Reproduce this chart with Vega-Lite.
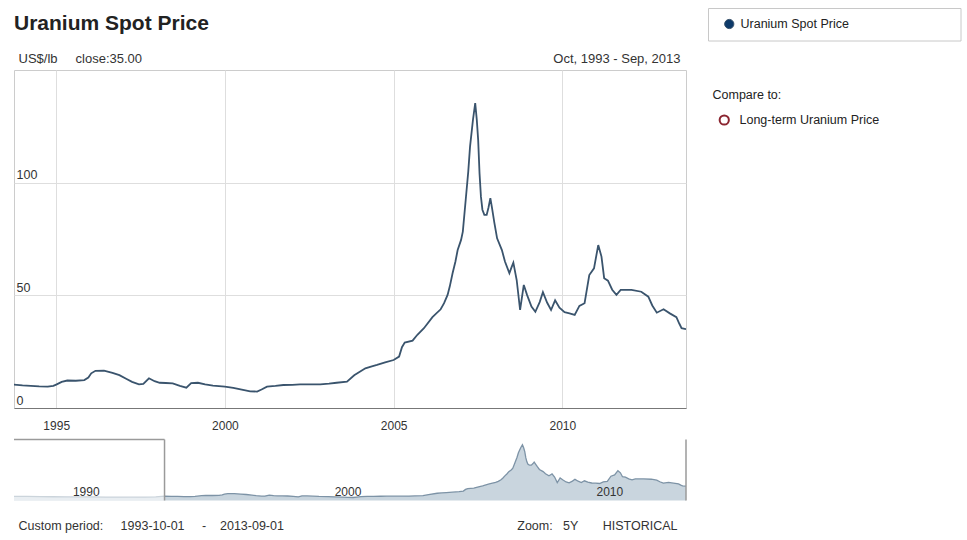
{
  "$schema": "https://vega.github.io/schema/vega-lite/v6.json",
  "padding": {"left": 11, "top": 8, "right": 7, "bottom": 5},
  "background": "#ffffff",
  "datasets": {
    "prices": [
      {"date": "1988-01-01", "price": 10.0},
      {"date": "1988-07-01", "price": 9.8},
      {"date": "1989-01-01", "price": 9.4},
      {"date": "1989-07-01", "price": 9.1},
      {"date": "1990-01-01", "price": 8.9},
      {"date": "1990-07-01", "price": 8.7},
      {"date": "1991-01-01", "price": 8.6},
      {"date": "1991-07-01", "price": 8.4},
      {"date": "1992-01-01", "price": 8.2},
      {"date": "1992-07-01", "price": 8.0},
      {"date": "1993-01-01", "price": 8.3},
      {"date": "1993-06-01", "price": 9.0},
      {"date": "1993-10-01", "price": 10.4},
      {"date": "1994-01-01", "price": 10.0},
      {"date": "1994-04-01", "price": 9.8},
      {"date": "1994-07-01", "price": 9.6},
      {"date": "1994-10-01", "price": 9.5},
      {"date": "1994-12-01", "price": 9.8},
      {"date": "1995-01-01", "price": 10.4},
      {"date": "1995-03-01", "price": 11.6},
      {"date": "1995-05-01", "price": 12.2},
      {"date": "1995-08-01", "price": 12.1},
      {"date": "1995-11-01", "price": 12.4},
      {"date": "1995-12-15", "price": 13.5},
      {"date": "1996-01-15", "price": 15.4},
      {"date": "1996-03-01", "price": 16.5},
      {"date": "1996-06-01", "price": 16.6},
      {"date": "1996-09-01", "price": 15.6},
      {"date": "1996-11-15", "price": 14.6},
      {"date": "1997-02-01", "price": 12.9},
      {"date": "1997-04-01", "price": 11.6},
      {"date": "1997-06-15", "price": 10.5},
      {"date": "1997-08-01", "price": 10.7},
      {"date": "1997-10-01", "price": 13.2},
      {"date": "1997-12-01", "price": 11.9},
      {"date": "1998-01-25", "price": 11.2},
      {"date": "1998-04-01", "price": 11.1},
      {"date": "1998-06-15", "price": 10.9},
      {"date": "1998-09-01", "price": 9.8},
      {"date": "1998-11-10", "price": 9.0},
      {"date": "1999-01-01", "price": 11.0},
      {"date": "1999-03-15", "price": 11.2},
      {"date": "1999-06-01", "price": 10.5},
      {"date": "1999-08-25", "price": 9.9},
      {"date": "2000-01-01", "price": 9.5},
      {"date": "2000-04-01", "price": 8.9},
      {"date": "2000-07-15", "price": 8.0},
      {"date": "2000-10-01", "price": 7.4},
      {"date": "2000-12-15", "price": 7.3},
      {"date": "2001-02-01", "price": 8.2},
      {"date": "2001-04-01", "price": 9.5},
      {"date": "2001-07-01", "price": 9.8},
      {"date": "2001-09-25", "price": 10.2},
      {"date": "2002-01-01", "price": 10.3},
      {"date": "2002-03-25", "price": 10.5},
      {"date": "2002-07-01", "price": 10.5},
      {"date": "2002-10-30", "price": 10.5},
      {"date": "2003-02-01", "price": 10.8},
      {"date": "2003-04-25", "price": 11.2},
      {"date": "2003-08-15", "price": 11.7},
      {"date": "2003-11-01", "price": 14.5},
      {"date": "2004-03-01", "price": 17.6},
      {"date": "2004-05-01", "price": 18.4},
      {"date": "2004-07-05", "price": 19.1},
      {"date": "2004-10-01", "price": 20.2},
      {"date": "2005-01-01", "price": 21.3},
      {"date": "2005-03-01", "price": 22.8},
      {"date": "2005-04-01", "price": 27.0},
      {"date": "2005-05-01", "price": 29.0},
      {"date": "2005-07-25", "price": 29.9},
      {"date": "2005-09-15", "price": 32.5},
      {"date": "2005-11-25", "price": 35.4},
      {"date": "2006-02-25", "price": 40.3},
      {"date": "2006-05-25", "price": 43.8},
      {"date": "2006-07-01", "price": 46.5},
      {"date": "2006-08-08", "price": 50.2},
      {"date": "2006-09-01", "price": 54.0},
      {"date": "2006-10-01", "price": 59.8},
      {"date": "2006-11-01", "price": 65.0},
      {"date": "2006-11-25", "price": 70.1},
      {"date": "2007-01-01", "price": 74.6},
      {"date": "2007-01-20", "price": 78.3},
      {"date": "2007-02-20", "price": 92.3},
      {"date": "2007-03-20", "price": 105.0},
      {"date": "2007-04-08", "price": 116.0},
      {"date": "2007-05-10", "price": 128.0},
      {"date": "2007-06-03", "price": 135.3},
      {"date": "2007-06-20", "price": 128.0},
      {"date": "2007-07-05", "price": 119.0},
      {"date": "2007-07-20", "price": 104.0},
      {"date": "2007-08-04", "price": 93.8},
      {"date": "2007-08-20", "price": 88.0},
      {"date": "2007-09-10", "price": 85.7},
      {"date": "2007-10-05", "price": 85.7},
      {"date": "2007-10-25", "price": 89.0},
      {"date": "2007-11-14", "price": 93.1},
      {"date": "2007-12-01", "price": 89.0},
      {"date": "2007-12-28", "price": 82.0},
      {"date": "2008-01-26", "price": 75.3},
      {"date": "2008-03-18", "price": 70.1},
      {"date": "2008-04-20", "price": 65.0},
      {"date": "2008-06-07", "price": 59.8},
      {"date": "2008-07-01", "price": 62.5},
      {"date": "2008-07-20", "price": 64.5},
      {"date": "2008-08-25", "price": 56.8},
      {"date": "2008-10-01", "price": 43.5},
      {"date": "2008-11-10", "price": 54.6},
      {"date": "2008-12-15", "price": 50.2},
      {"date": "2009-02-01", "price": 45.0},
      {"date": "2009-03-15", "price": 42.7},
      {"date": "2009-05-01", "price": 47.0},
      {"date": "2009-06-05", "price": 51.4},
      {"date": "2009-07-20", "price": 46.8},
      {"date": "2009-09-01", "price": 43.5},
      {"date": "2009-10-15", "price": 47.8},
      {"date": "2009-12-01", "price": 44.5},
      {"date": "2010-01-25", "price": 42.5},
      {"date": "2010-03-20", "price": 42.0},
      {"date": "2010-05-15", "price": 41.3},
      {"date": "2010-07-05", "price": 45.3},
      {"date": "2010-08-30", "price": 46.5},
      {"date": "2010-10-20", "price": 59.0},
      {"date": "2010-12-10", "price": 62.0},
      {"date": "2011-01-25", "price": 72.3},
      {"date": "2011-03-01", "price": 67.2},
      {"date": "2011-03-30", "price": 57.6},
      {"date": "2011-05-10", "price": 56.5},
      {"date": "2011-06-25", "price": 52.5},
      {"date": "2011-08-10", "price": 50.2},
      {"date": "2011-09-25", "price": 52.4},
      {"date": "2012-01-20", "price": 52.4},
      {"date": "2012-05-05", "price": 51.6},
      {"date": "2012-07-20", "price": 49.4},
      {"date": "2012-09-01", "price": 45.5},
      {"date": "2012-10-20", "price": 42.3},
      {"date": "2013-01-01", "price": 43.8},
      {"date": "2013-03-10", "price": 42.0},
      {"date": "2013-05-20", "price": 40.3},
      {"date": "2013-06-20", "price": 37.5},
      {"date": "2013-07-15", "price": 35.4},
      {"date": "2013-09-01", "price": 35.0}
    ],
    "period": [{"start": "1988-01-01", "from": "1993-10-01", "to": "2013-09-01", "top": 148}]
  },
  "spacing": 6.5,
  "vconcat": [
    {
      "width": 672,
      "height": 338,
      "title": {"text": "Uranium Spot Price", "anchor": "start", "font": "Liberation Sans", "fontSize": 21, "fontWeight": "bold", "color": "#222222", "offset": 18},
      "layer": [
        {
          "data": {"name": "prices"},
          "mark": {"type": "line", "clip": true, "strokeWidth": 1.8, "interpolate": "linear"},
          "encoding": {
            "x": {
              "field": "date", "type": "temporal",
              "scale": {"domain": [{"year": 1993, "month": 10, "date": 1}, {"year": 2013, "month": 9, "date": 1}]},
              "axis": {"orient": "bottom", "values": [{"year": 1995, "month": 1, "date": 1}, {"year": 2000, "month": 1, "date": 1}, {"year": 2005, "month": 1, "date": 1}, {"year": 2010, "month": 1, "date": 1}], "format": "%Y", "labelFontSize": 12, "labelPadding": 12, "labelBaseline": "top", "labelFlush": false, "title": null, "grid": true, "domain": true, "domainColor": "#777777", "domainWidth": 1.2}
            },
            "y": {
              "field": "price", "type": "quantitative",
              "scale": {"domain": [0, 150], "nice": false},
              "axis": {"values": [0, 50, 100], "labelAlign": "left", "labelBaseline": "alphabetic", "labelPadding": -2, "labelOffset": -4, "labelFontSize": 12.5, "grid": true, "title": "US$/lb\u00a0\u00a0\u00a0\u00a0\u00a0close:35.00", "titleAngle": 0, "titleAlign": "left", "titleBaseline": "alphabetic", "titleX": 4, "titleY": -8, "titleFontSize": 13}
            },
            "color": {
              "datum": "Uranium Spot Price", "type": "nominal",
              "scale": {"domain": ["Uranium Spot Price"], "range": ["#3a546d"]},
              "legend": {
                "title": null, "orient": "none", "legendX": 694, "legendY": -62, "padding": 0,
                "symbolType": "circle", "symbolSize": 85, "symbolOffset": 15, "labelOffset": 5,
                "labelFont": "Liberation Sans", "labelFontSize": 12.5, "labelColor": "#222222", "clipHeight": 32,
                "encode": {
                  "symbols": {"update": {"fill": {"value": "#0d3a6a"}, "stroke": {"value": "#0d3a6a"}, "strokeWidth": {"value": 1}, "opacity": {"value": 1}}},
                  "entries": {"update": {"stroke": {"value": "#c8c8c8"}, "strokeWidth": {"value": 1}, "fill": {"value": "#ffffff"}, "width": {"value": 252}, "height": {"value": 32}}}
                }
              }
            }
          }
        },
        {
          "data": {"values": [{"date": "2013-09-01", "price": 35, "compare": "Long-term Uranium Price"}]},
          "mark": {"type": "point", "opacity": 0, "filled": false},
          "encoding": {
            "x": {
              "field": "date", "type": "temporal",
              "axis": {"orient": "top", "labels": false, "grid": false, "domain": false, "title": "Compare to:", "titleAngle": 0, "titleAlign": "left", "titleBaseline": "alphabetic", "titleX": 698, "titleY": 28, "titleFontSize": 12.5, "titleColor": "#222222"}
            },
            "y": {
              "field": "price", "type": "quantitative",
              "axis": {"orient": "right", "labels": false, "grid": false, "title": "Oct, 1993 - Sep, 2013", "titleAngle": 0, "titleAlign": "right", "titleBaseline": "alphabetic", "titleX": -6, "titleY": -8, "titleFontSize": 13}
            },
            "stroke": {
              "field": "compare", "type": "nominal",
              "scale": {"range": ["#8b2530"]},
              "legend": {
                "title": null, "orient": "none", "legendX": 694, "legendY": 35, "padding": 0,
                "symbolType": "circle", "symbolSize": 85, "symbolStrokeWidth": 2, "symbolOffset": 10, "labelOffset": 9,
                "labelFont": "Liberation Sans", "labelFontSize": 12.5, "labelColor": "#222222", "clipHeight": 30,
                "encode": {
                  "symbols": {"update": {"opacity": {"value": 1}, "fill": {"value": "#ffffff"}, "strokeWidth": {"value": 2}}},
                  "entries": {"update": {"stroke": {"value": "#c8c8c8"}, "strokeWidth": {"value": 1}, "fill": {"value": "#ffffff"}, "width": {"value": 252}, "height": {"value": 30}}}
                }
              }
            }
          }
        }
      ],
      "resolve": {"axis": {"x": "independent", "y": "independent"}}
    },
    {
      "width": 672,
      "height": 61,
      "view": {"stroke": null},
      "layer": [
        {
          "data": {"name": "prices"},
          "mark": {"type": "area", "color": "#c9d5de", "opacity": 1, "line": {"color": "#7d93a6", "strokeWidth": 1.3}},
          "encoding": {
            "x": {
              "field": "date", "type": "temporal",
              "scale": {"domain": [{"year": 1988, "month": 1, "date": 1}, {"year": 2013, "month": 9, "date": 1}]},
              "axis": {"zindex": 1, "values": [{"year": 1990, "month": 1, "date": 1}, {"year": 2000, "month": 1, "date": 1}, {"year": 2010, "month": 1, "date": 1}], "format": "%Y", "labelAlign": "left", "labelBaseline": "alphabetic", "labelPadding": -5, "labelOffset": 6, "labelFontSize": 12, "labelFlush": false, "grid": false, "title": "Custom period:\u00a0\u00a0\u00a0\u00a0\u00a01993-10-01\u00a0\u00a0\u00a0\u00a0\u00a0-\u00a0\u00a0\u00a0\u00a02013-09-01", "titleX": 4, "titleY": 29, "titleAlign": "left", "titleBaseline": "alphabetic", "titleFontSize": 12.5}
            },
            "y": {
              "field": "price", "type": "quantitative",
              "scale": {"domain": [0, 148], "nice": false},
              "axis": {"orient": "right", "labels": false, "grid": false, "title": "Zoom:\u00a0\u00a0\u00a05Y\u00a0\u00a0\u00a0\u00a0\u00a0\u00a0\u00a0HISTORICAL", "titleAngle": 0, "titleAlign": "right", "titleBaseline": "alphabetic", "titleX": -9, "titleY": 90, "titleFontSize": 12.5}
            }
          }
        },
        {
          "data": {"name": "period"},
          "mark": {"type": "rect", "fill": "#ffffff", "opacity": 0.6},
          "encoding": {
            "x": {"field": "start", "type": "temporal"},
            "x2": {"field": "from"}
          }
        },
        {
          "data": {"name": "period"},
          "mark": {"type": "rule", "color": "#9a9a9a", "strokeWidth": 1.5},
          "encoding": {
            "x": {"field": "start", "type": "temporal"},
            "x2": {"field": "from"},
            "y": {"field": "top", "type": "quantitative"}
          }
        },
        {
          "data": {"name": "period"},
          "mark": {"type": "rule", "color": "#9a9a9a", "strokeWidth": 1.5},
          "encoding": {"x": {"field": "from", "type": "temporal"}}
        },
        {
          "data": {"name": "period"},
          "mark": {"type": "rule", "color": "#9a9a9a", "strokeWidth": 1.5},
          "encoding": {"x": {"field": "to", "type": "temporal"}}
        }
      ]
    }
  ],
  "config": {
    "font": "Liberation Sans",
    "view": {"stroke": "#cccccc"},
    "axis": {"labelFont": "Liberation Sans", "labelColor": "#333333", "titleFont": "Liberation Sans", "titleColor": "#333333", "titleFontWeight": "normal", "domain": false, "ticks": false, "tickSize": 0, "gridColor": "#dedede", "gridWidth": 1}
  }
}
